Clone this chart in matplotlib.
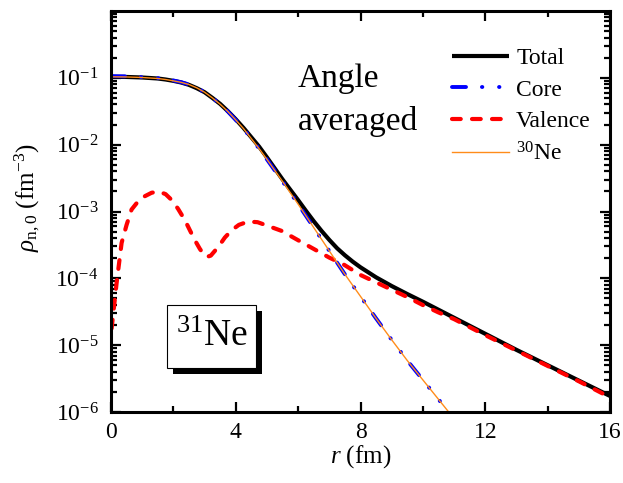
import numpy as np
import matplotlib
matplotlib.use("Agg")
import matplotlib.pyplot as plt
from matplotlib.patches import Rectangle

plt.rcParams["font.family"] = ["Liberation Serif", "DejaVu Serif"]
plt.rcParams["mathtext.fontset"] = "custom"
plt.rcParams["mathtext.rm"] = "Liberation Serif"
plt.rcParams["mathtext.it"] = "Liberation Serif:italic"
plt.rcParams["mathtext.bf"] = "Liberation Serif:bold"
plt.rcParams["axes.unicode_minus"] = False

# radial grid (fm) and log10 densities
r_main = [0.0, 0.5, 1.0, 1.5, 1.75, 2.0, 2.25, 2.5, 2.75, 3.0, 3.25, 3.5, 3.75,
          4.0, 4.25, 4.5, 4.75, 5.0, 5.5, 6.0, 6.25, 6.5, 6.75, 7.0, 7.25, 7.5,
          7.75, 8.0, 8.5, 9.0, 9.5, 10.0, 11.0, 12.0, 13.0, 14.0, 15.0, 16.0]
log_total = [-0.985, -0.987, -0.995, -1.01, -1.025, -1.045, -1.07, -1.105, -1.155,
             -1.215, -1.30, -1.39, -1.50, -1.62, -1.75, -1.89, -2.03, -2.19, -2.52,
             -2.83, -2.99, -3.145, -3.29, -3.425, -3.55, -3.655, -3.75, -3.835,
             -3.985, -4.115, -4.235, -4.35, -4.59, -4.83, -5.07, -5.30, -5.53, -5.76]

r_core = [0.0, 0.5, 1.0, 1.5, 1.75, 2.0, 2.25, 2.5, 2.75, 3.0, 3.25, 3.5, 3.75,
          4.0, 4.25, 4.5, 4.75, 5.0, 5.5, 6.0, 6.5, 7.0, 7.5, 8.0, 8.5, 9.0,
          9.5, 10.0, 10.5, 11.0]
log_core = [-0.975, -0.978, -0.99, -1.005, -1.02, -1.04, -1.065, -1.10, -1.15,
            -1.215, -1.30, -1.395, -1.505, -1.63, -1.76, -1.91, -2.06, -2.22,
            -2.55, -2.89, -3.24, -3.59, -3.94, -4.27, -4.60, -4.92, -5.23, -5.52,
            -5.81, -6.10]
log_ne30 = [-0.985, -0.987, -0.995, -1.01, -1.025, -1.045, -1.068, -1.10, -1.15,
            -1.215, -1.30, -1.395, -1.505, -1.63, -1.76, -1.91, -2.06, -2.22,
            -2.55, -2.89, -3.24, -3.59, -3.94, -4.27, -4.60, -4.92, -5.23, -5.52,
            -5.81, -6.10]

r_val = [0.02, 0.18, 0.34, 0.5, 0.66, 0.9, 1.09, 1.3, 1.52, 1.75, 1.95, 2.15,
         2.37, 2.55, 2.69, 2.85, 3.0, 3.07, 3.2, 3.44, 3.65, 3.87, 4.1, 4.4, 4.7,
         4.94, 5.47, 6.0, 6.5, 7.0, 7.45, 8.0, 8.5, 9.0, 9.5, 10.0, 10.5, 11.0,
         12.0, 13.0, 14.0, 15.0, 16.0]
log_val = [-4.75, -4.07, -3.47, -3.20, -2.97, -2.83, -2.77, -2.72, -2.70, -2.74,
           -2.83, -2.96, -3.13, -3.30, -3.43, -3.56, -3.66, -3.68, -3.66, -3.53,
           -3.39, -3.28, -3.20, -3.15, -3.16, -3.20, -3.29, -3.43, -3.56, -3.69,
           -3.79, -3.95, -4.06, -4.17, -4.28, -4.40, -4.51, -4.61, -4.85, -5.08,
           -5.31, -5.54, -5.78]

x_ticks = [0, 4, 8, 12, 16]
y_ticks = [1e-6, 1e-5, 1e-4, 1e-3, 1e-2, 1e-1]

fig = plt.figure(figsize=(6.23, 4.83), dpi=100)
ax = fig.add_axes([111 / 623, 1 - 412 / 483, 499 / 623, 401 / 483])

ax.plot(r_main, 10.0 ** np.array(log_total), color="black", lw=3.0, label="Total",
        solid_capstyle="butt")
ax.plot(r_core, 10.0 ** np.array(log_core), color="#0000FF", lw=2.8,
        linestyle=(0, (3.6, 4.1, 0.1, 4.3, 0.1, 3.9)), dash_capstyle="round",
        label="Core")
ax.plot(r_val, 10.0 ** np.array(log_val), color="#FF0000", lw=3.0,
        linestyle=(0, (2.1, 2.7)), dash_capstyle="round", label="Valence")
ax.plot(r_core, 10.0 ** np.array(log_ne30), color="#FF8C1A", lw=1.0,
        label="$^{30}$Ne")

ax.set_yscale("log")
ax.set_xlim(0, 16)
ax.set_ylim(1e-6, 1.0)
ax.set_xticks(x_ticks)
ax.set_xticklabels([str(t) for t in x_ticks])
ax.xaxis.set_minor_locator(matplotlib.ticker.MultipleLocator(2))
ax.yaxis.set_major_locator(matplotlib.ticker.FixedLocator(y_ticks))
ax.yaxis.set_major_formatter(matplotlib.ticker.LogFormatterSciNotation())
ax.yaxis.set_minor_locator(matplotlib.ticker.LogLocator(base=10, subs=np.arange(2, 10), numticks=20))
ax.yaxis.set_minor_formatter(matplotlib.ticker.NullFormatter())

for s in ax.spines.values():
    s.set_linewidth(2.2)
ax.tick_params(which="both", direction="in", top=True, right=True, width=1.6)
ax.tick_params(which="major", length=7.5)
ax.tick_params(which="minor", length=4)
ax.tick_params(axis="x", which="major", labelsize=17, pad=7)
ax.tick_params(axis="y", which="major", labelsize=17, pad=9)

ax.set_xlabel("$r$ (fm)", fontsize=18, labelpad=0)
ax.set_ylabel(r"$\rho_{\rm n,0}$ (fm$^{-3}$)", fontsize=18)
ax.yaxis.set_label_coords(-0.138, 0.534)

leg = ax.legend(loc="upper right", frameon=False, fontsize=17,
                handlelength=2.4, handletextpad=0.3, labelspacing=0.42,
                bbox_to_anchor=(0.99, 0.944), borderaxespad=0.2)

fig.text(298 / 623, 1 - 87 / 483, "Angle", fontsize=24, ha="left", va="baseline")
fig.text(298 / 623, 1 - 130 / 483, "averaged", fontsize=24, ha="left", va="baseline")

# nucleus label in a framed box with a drop shadow
bx, by, bw, bh = 56 / 499, 44 / 401, 89 / 499, 63 / 401
ax.add_patch(Rectangle((bx + 6 / 499, by - 6 / 401), bw, bh, transform=ax.transAxes,
                       facecolor="black", edgecolor="black", lw=0, zorder=5))
ax.add_patch(Rectangle((bx, by), bw, bh, transform=ax.transAxes,
                       facecolor="white", edgecolor="black", lw=0.8, zorder=6))
ax.text(bx + bw / 2, by + bh / 2, "$^{31}$Ne", fontsize=27, ha="center", va="center",
        transform=ax.transAxes, zorder=7)

fig.savefig("out.png", dpi=100)
